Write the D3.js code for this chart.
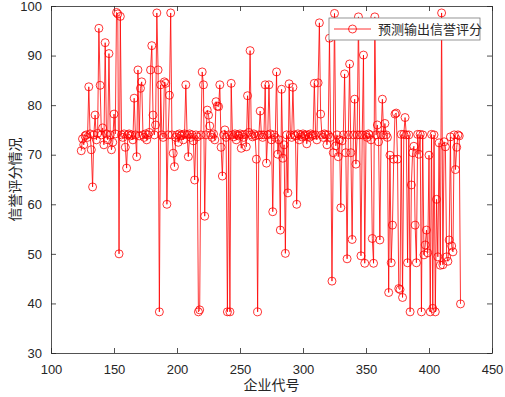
<!DOCTYPE html>
<html>
<head>
<meta charset="utf-8">
<script src="https://cdn.jsdelivr.net/npm/d3@7"></script>
<style>
  body { margin: 0; background: #fff; }
  .axis text { font-family: "Liberation Sans", Arial, sans-serif; font-size: 13px; fill: #262626; }
  .axis path, .axis line { stroke: #262626; stroke-width: 0.8; }
</style>
</head>
<body>
<svg id="chart"></svg>
<script>
// first enterprise code, scores follow consecutively
const firstCode = 124;
const scores = [
  70.8, 73.2, 72.0, 73.8, 74.0, 73.5, 83.7, 74.2, 71.0, 63.5,
  74.0, 78.0, 73.0, 74.3, 95.5, 84.0, 74.0, 75.4, 72.0, 92.6,
  74.2, 73.0, 90.4, 74.0, 71.0, 72.5, 78.2, 74.2, 98.7, 98.4,
  50.0, 97.9, 74.0, 73.5, 74.2, 71.5, 67.3, 74.0, 74.2, 73.8,
  74.0, 73.0, 81.4, 74.0, 69.6, 87.1, 73.8, 83.4, 84.7, 74.0,
  73.5, 74.2, 73.0, 74.0, 74.5, 87.1, 92.0, 78.0, 74.0, 76.0,
  98.6, 87.1, 38.3, 84.1, 74.0, 73.5, 84.7, 84.4, 60.0, 74.0,
  82.0, 98.6, 74.0, 70.3, 67.6, 73.5, 74.0, 72.5, 74.2, 73.8,
  74.0, 73.0, 74.2, 84.1, 74.0, 69.6, 74.2, 73.5, 74.0, 72.8,
  64.9, 74.0, 73.6, 38.3, 38.7, 74.0, 86.7, 84.1, 57.6, 74.0,
  79.0, 78.0, 75.8, 74.0, 73.5, 74.2, 73.0, 80.7, 79.8, 79.7,
  84.1, 71.5, 65.7, 74.0, 75.0, 73.5, 38.3, 74.0, 38.3, 84.4,
  74.0, 73.6, 74.2, 73.0, 74.0, 73.8, 74.2, 71.3, 74.0, 73.5,
  74.1, 71.6, 81.9, 74.5, 91.0, 74.0, 73.6, 74.2, 73.8, 69.1,
  38.3, 74.0, 78.8, 74.0, 73.5, 74.0, 84.1, 68.3, 74.0, 84.1,
  74.2, 73.0, 58.5, 74.0, 73.5, 86.7, 70.1, 73.0, 54.8, 83.2,
  69.3, 72.0, 50.1, 74.0, 62.3, 84.3, 74.0, 73.5, 83.6, 74.0,
  73.8, 60.0, 74.2, 73.0, 74.0, 73.6, 74.2, 73.8, 74.0, 72.2,
  74.0, 73.5, 74.2, 73.8, 74.0, 84.4, 74.0, 73.0, 84.5, 96.6,
  78.2, 74.0, 73.5, 74.2, 74.0, 72.0, 74.0, 93.5, 73.5, 44.5,
  70.4, 98.5, 71.8, 74.0, 69.6, 73.0, 59.3, 72.8, 74.0, 86.3,
  70.4, 49.0, 74.0, 88.3, 70.4, 52.9, 74.0, 81.2, 68.1, 74.0,
  97.8, 74.0, 49.6, 74.0, 90.1, 48.1, 74.0, 73.5, 74.2, 74.0,
  73.0, 53.1, 48.1, 97.8, 74.0, 76.0, 72.6, 52.8, 74.0, 81.2,
  74.0, 76.3, 74.0, 73.5, 42.2, 69.9, 48.2, 55.8, 69.1, 78.2,
  78.4, 69.1, 43.0, 42.8, 74.1, 41.2, 74.1, 77.5, 74.0, 48.2,
  74.0, 38.3, 63.9, 70.4, 71.7, 55.8, 48.2, 74.1, 70.1, 74.1,
  38.3, 74.0, 49.8, 51.8, 54.8, 50.2, 69.9, 38.3, 74.1, 39.0,
  74.0, 38.3, 61.0, 49.4, 72.4, 47.7, 98.6, 47.8, 72.6, 71.6,
  49.4, 48.5, 52.8, 73.6, 51.6, 50.4, 74.0, 67.0, 71.5, 74.0,
  73.8, 39.9
];
const xTicks = [100, 150, 200, 250, 300, 350, 400, 450];
const yTicks = [30, 40, 50, 60, 70, 80, 90, 100];
const seriesName = '预测输出信誉评分';
const xTitle = '企业代号';
const yTitle = '信誉评分情况';

const data = scores.map((v, i) => ({ code: firstCode + i, score: v }));

const width = 505, height = 397;
const margin = { top: 6, right: 13, bottom: 44, left: 51 };
const w = width - margin.left - margin.right;
const h = height - margin.top - margin.bottom;

const svg = d3.select('#chart').attr('width', width).attr('height', height);
const chart = svg.append('g').attr('transform', `translate(${margin.left},${margin.top})`);

const xScale = d3.scaleLinear().domain([100, 450]).range([0, w]);
const yScale = d3.scaleLinear().domain([30, 100]).range([h, 0]);

// axes with inward ticks (plus mirrored top/right)
chart.append('g').attr('class', 'axis')
  .attr('transform', `translate(0,${h})`)
  .call(d3.axisBottom(xScale).tickValues(xTicks).tickSize(-5).tickPadding(9).tickSizeOuter(0))
  .call((g) => g.selectAll('text').attr('dy', '0.9em'));
chart.append('g').attr('class', 'axis')
  .call(d3.axisTop(xScale).tickValues(xTicks).tickSize(-5).tickFormat('').tickSizeOuter(0));
chart.append('g').attr('class', 'axis')
  .call(d3.axisLeft(yScale).tickValues(yTicks).tickSize(-5).tickPadding(9).tickSizeOuter(0));
chart.append('g').attr('class', 'axis')
  .attr('transform', `translate(${w},0)`)
  .call(d3.axisRight(yScale).tickValues(yTicks).tickSize(-5).tickFormat('').tickSizeOuter(0));

const line = d3.line()
  .x((d) => xScale(d.code))
  .y((d) => yScale(d.score));

chart.append('path')
  .datum(data)
  .attr('fill', 'none')
  .attr('stroke', '#ff0000')
  .attr('stroke-width', 0.8)
  .attr('d', line);

chart.append('g').selectAll('circle')
  .data(data)
  .join('circle')
  .attr('cx', (d) => xScale(d.code))
  .attr('cy', (d) => yScale(d.score))
  .attr('r', 4)
  .attr('fill', 'none')
  .attr('stroke', '#ff0000')
  .attr('stroke-width', 0.8);

// axis titles
svg.append('text')
  .attr('x', margin.left + w / 2)
  .attr('y', 390)
  .attr('text-anchor', 'middle')
  .style('font-family', '"Noto Sans CJK SC", sans-serif')
  .style('font-size', '14px')
  .style('fill', '#262626')
  .text(xTitle);
svg.append('text')
  .attr('transform', `translate(20,${margin.top + h / 2}) rotate(-90)`)
  .attr('text-anchor', 'middle')
  .style('font-family', '"Noto Sans CJK SC", sans-serif')
  .style('font-size', '14px')
  .style('fill', '#262626')
  .text(yTitle);

// legend
const legend = svg.append('g').attr('transform', 'translate(329,18)');
legend.append('rect')
  .attr('width', 151).attr('height', 22)
  .attr('fill', '#fff').attr('stroke', '#7a7a7a').attr('stroke-width', 0.8);
legend.append('line')
  .attr('x1', 5).attr('x2', 42).attr('y1', 11).attr('y2', 11)
  .attr('stroke', '#ff0000').attr('stroke-width', 0.8);
legend.append('circle')
  .attr('cx', 23.5).attr('cy', 11).attr('r', 4)
  .attr('fill', 'none').attr('stroke', '#ff0000').attr('stroke-width', 0.8);
legend.append('text')
  .attr('x', 49).attr('y', 16)
  .style('font-family', '"Noto Sans CJK SC", sans-serif')
  .style('font-size', '13px')
  .style('fill', '#262626')
  .text(seriesName);
</script>
</body>
</html>
